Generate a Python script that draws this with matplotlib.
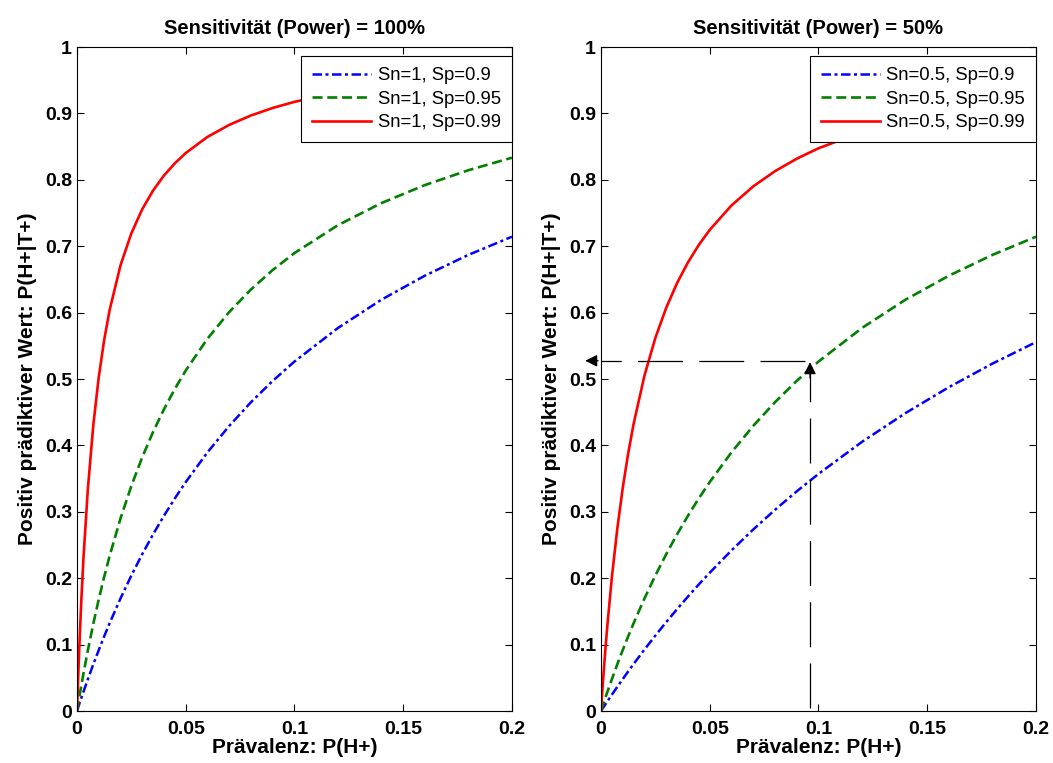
import numpy as np
import matplotlib.pyplot as plt

plt.rcParams['font.family'] = ['Liberation Sans', 'DejaVu Sans']

praev = [0, 0.001, 0.002, 0.003, 0.005, 0.0075, 0.01, 0.0125, 0.015, 0.02, 0.025, 0.03, 0.035,
         0.04, 0.045, 0.05, 0.06, 0.07, 0.08, 0.09, 0.1, 0.12, 0.14, 0.16, 0.18, 0.2]

# Sn = 1
ppv_1_90 = [0, 0.0099, 0.0197, 0.0292, 0.0478, 0.0703, 0.0917, 0.1124, 0.1322, 0.1695, 0.2041, 0.2362, 0.2662,
            0.2941, 0.3203, 0.3448, 0.3896, 0.4294, 0.4651, 0.4972, 0.5263, 0.5769, 0.6195, 0.6557, 0.6870, 0.7143]
ppv_1_95 = [0, 0.0196, 0.0385, 0.0568, 0.0913, 0.1313, 0.1681, 0.2020, 0.2335, 0.2899, 0.3390, 0.3822, 0.4204,
            0.4545, 0.4852, 0.5128, 0.5607, 0.6009, 0.6349, 0.6642, 0.6897, 0.7317, 0.7650, 0.7921, 0.8145, 0.8333]
ppv_1_99 = [0, 0.0910, 0.1669, 0.2313, 0.3344, 0.4304, 0.5025, 0.5587, 0.6036, 0.6711, 0.7194, 0.7557, 0.7839,
            0.8065, 0.8249, 0.8403, 0.8646, 0.8827, 0.8969, 0.9082, 0.9174, 0.9317, 0.9421, 0.9501, 0.9564, 0.9615]

# Sn = 0.5
ppv_05_90 = [0, 0.0050, 0.0099, 0.0148, 0.0245, 0.0364, 0.0481, 0.0595, 0.0708, 0.0926, 0.1136, 0.1339, 0.1535,
             0.1724, 0.1907, 0.2083, 0.2419, 0.2734, 0.3030, 0.3309, 0.3571, 0.4054, 0.4487, 0.4878, 0.5233, 0.5556]
ppv_05_95 = [0, 0.0099, 0.0197, 0.0292, 0.0478, 0.0703, 0.0917, 0.1124, 0.1322, 0.1695, 0.2041, 0.2362, 0.2662,
             0.2941, 0.3203, 0.3448, 0.3896, 0.4294, 0.4651, 0.4972, 0.5263, 0.5769, 0.6195, 0.6557, 0.6870, 0.7143]
ppv_05_99 = [0, 0.0477, 0.0911, 0.1308, 0.2008, 0.2742, 0.3356, 0.3876, 0.4323, 0.5051, 0.5618, 0.6073, 0.6446,
             0.6757, 0.7020, 0.7246, 0.7614, 0.7901, 0.8130, 0.8318, 0.8475, 0.8721, 0.8906, 0.9050, 0.9165, 0.9259]

titles = ['Sensitivität (Power) = 100%', 'Sensitivität (Power) = 50%']
labels_left = ['Sn=1, Sp=0.9', 'Sn=1, Sp=0.95', 'Sn=1, Sp=0.99']
labels_right = ['Sn=0.5, Sp=0.9', 'Sn=0.5, Sp=0.95', 'Sn=0.5, Sp=0.99']

# Ablesebeispiel (Pfeile im rechten Bild)
pfeil_x = 0.0961
pfeil_y = 0.5275
pfeil_y0 = 0.005

fig = plt.figure(figsize=(10.53, 7.63), dpi=100)
ax1 = fig.add_axes([0.0731, 0.0681, 0.4131, 0.8703])
ax2 = fig.add_axes([0.5707, 0.0681, 0.4132, 0.8703])

styles = [dict(color='b', ls=(0, (3.8, 1.4, 1.2, 1.4)), lw=1.8),
          dict(color='g', ls=(0, (3.8, 1.8)), lw=1.9),
          dict(color='r', ls='-', lw=1.9)]

def draw(ax, curves, labels, title):
    for y, lab, st in zip(curves, labels, styles):
        ax.plot(praev, y, label=lab, **st)
    ax.set_xlim(0, 0.2)
    ax.set_ylim(0, 1)
    ax.set_xticks([0, 0.05, 0.1, 0.15, 0.2])
    ax.set_xticklabels(['0', '0.05', '0.1', '0.15', '0.2'])
    ax.set_yticks(np.arange(0, 11) / 10)
    ax.set_yticklabels(['0', '0.1', '0.2', '0.3', '0.4', '0.5', '0.6', '0.7', '0.8', '0.9', '1'])
    ax.tick_params(direction='in', top=True, right=True, length=5, labelsize=14)
    ax.tick_params(axis='x', pad=7)
    ax.tick_params(axis='y', pad=3.5)
    for t in ax.get_xticklabels() + ax.get_yticklabels():
        t.set_fontweight('bold')
    ax.set_title(title, fontsize=14.5, fontweight='bold', pad=9.5)
    ax.set_xlabel('Prävalenz: P(H+)', fontsize=15, fontweight='bold', labelpad=0)
    ax.set_ylabel('Positiv prädiktiver Wert: P(H+|T+)', fontsize=15, fontweight='bold', labelpad=6)
    leg = ax.legend(loc='upper right', bbox_to_anchor=(1, 1 - 9 / 664), borderaxespad=0,
                    fontsize=13.3, fancybox=False, framealpha=1, edgecolor='k',
                    handlelength=3.2, handletextpad=0.35, labelspacing=0.35, borderpad=0.6)
    leg.get_frame().set_linewidth(0.8)

draw(ax1, [ppv_1_90, ppv_1_95, ppv_1_99], labels_left, titles[0])
draw(ax2, [ppv_05_90, ppv_05_95, ppv_05_99], labels_right, titles[1])

# gestrichelte Ablese-Linien mit Pfeilspitzen
ax2.plot([pfeil_x, pfeil_x], [pfeil_y0, pfeil_y - 0.012], color='k', lw=0.9,
         dashes=(36, 13), zorder=5)
ax2.plot([pfeil_x - 0.0023, 0.0], [pfeil_y, pfeil_y], color='k', lw=0.9,
         dashes=(36, 13), zorder=5)
ax2.annotate('', xy=(pfeil_x, pfeil_y + 0.002), xytext=(pfeil_x, pfeil_y - 0.03),
             arrowprops=dict(arrowstyle='-|>', color='k', lw=0.9, mutation_scale=18), zorder=6)
ax2.annotate('', xy=(-0.0085, pfeil_y), xytext=(0.0, pfeil_y),
             arrowprops=dict(arrowstyle='-|>', color='k', lw=0.9, mutation_scale=18),
             annotation_clip=False, zorder=6)

fig.savefig('out.png', dpi=100)
